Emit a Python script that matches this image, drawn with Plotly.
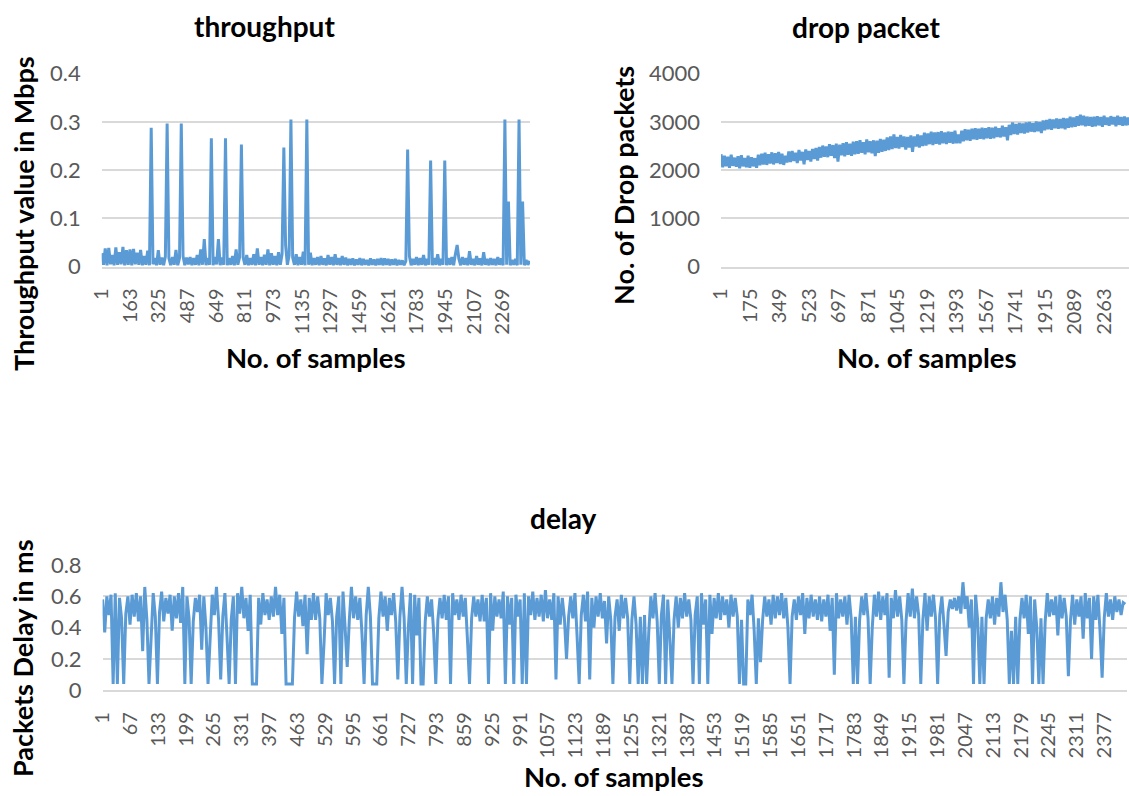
import plotly.graph_objects as go

W, H = 1129, 796

# ---------------- data ----------------
# throughput (Mbps), every 10th sample starting at sample 1
tp_step = 10
tp_base = [
    .028, .004, .038, .003, .039, .005, .024, .003, .040, .004, .030, .005, .041, .003, .034, .004, .036, .003, .037, .005,
    .029, .004, .035, .003, .022, .004, .033, .003, .020, .005, .018, .003, .034, .004, .019, .003, .021, .004, .018, .003,
    .020, .004, .035, .003, .018, .004, .022, .003, .019, .005, .020, .003, .018, .004, .024, .003, .036, .004, .022, .003,
    .018, .004, .028, .003, .020, .005, .030, .003, .019, .004, .019, .003, .018, .004, .022, .003, .036, .004, .020, .003,
    .019, .004, .024, .003, .018, .004, .026, .003, .038, .004, .020, .003, .025, .004, .036, .003, .028, .004, .022, .003,
    .030, .004, .026, .003, .040, .004, .024, .003, .019, .004, .026, .003, .020, .004, .031, .003, .020, .004, .029, .003,
    .018, .004, .020, .003, .022, .004, .017, .003, .024, .004, .020, .003, .026, .004, .018, .003, .022, .004, .019, .003,
    .016, .004, .017, .003, .015, .004, .018, .003, .016, .004, .014, .003, .017, .004, .015, .003, .016, .004, .018, .003,
    .017, .004, .016, .003, .015, .004, .016, .003, .014, .004, .013, .003, .012, .004, .022, .003, .016, .004, .020, .003,
    .018, .004, .024, .003, .016, .004, .022, .003, .018, .004, .026, .003, .016, .004, .024, .003, .018, .004, .020, .003,
    .026, .004, .016, .003, .020, .004, .018, .003, .032, .004, .016, .003, .022, .004, .017, .003, .030, .004, .016, .003,
    .018, .004, .016, .003, .020, .004, .017, .003, .018, .004, .016, .003, .014, .004, .016, .003, .018, .004, .015, .003,
    .014, .004, .012,
]
# (sample number, value) peaks
tp_events = [
    (282, .288), (367, .297), (450, .297), (584, .057), (618, .266), (665, .057),
    (699, .266), (788, .253), (1027, .247), (1046, .044), (1075, .305), (1156, .305),
    (1729, .243), (1857, .220), (1936, .220), (2012, .045), (2283, .305), (2297, .135),
    (2363, .305), (2378, .135),
]
tp_ticks = [1, 163, 325, 487, 649, 811, 973, 1135, 1297, 1459, 1621, 1783, 1945, 2107, 2269]

# drop packets, every 10th sample
drop_step = 10
drop_base = [
    2330, 2060, 2300, 2080, 2280, 2050, 2320, 2090, 2260, 2070, 2290, 2040, 2310, 2080, 2250, 2060, 2300, 2050, 2270, 2080,
    2250, 2050, 2320, 2100, 2340, 2120, 2360, 2110, 2330, 2140, 2370, 2120, 2350, 2150, 2380, 2130, 2340, 2110, 2300, 2160,
    2390, 2170, 2400, 2190, 2360, 2150, 2420, 2200, 2380, 2120, 2430, 2210, 2400, 2180, 2440, 2230, 2460, 2200, 2480, 2260,
    2510, 2280, 2490, 2270, 2540, 2300, 2520, 2250, 2550, 2180, 2530, 2310, 2560, 2290, 2580, 2320, 2550, 2300, 2590, 2330,
    2600, 2340, 2620, 2360, 2580, 2330, 2640, 2370, 2600, 2350, 2620, 2290, 2610, 2360, 2650, 2380, 2630, 2400, 2680, 2420,
    2700, 2440, 2740, 2460, 2690, 2450, 2730, 2480, 2700, 2430, 2690, 2470, 2720, 2380, 2700, 2490, 2740, 2470, 2720, 2500,
    2780, 2510, 2760, 2540, 2800, 2520, 2780, 2550, 2790, 2530, 2810, 2560, 2780, 2540, 2800, 2570, 2790, 2550, 2820, 2560,
    2740, 2560, 2820, 2600, 2850, 2620, 2840, 2610, 2860, 2640, 2870, 2630, 2860, 2650, 2880, 2640, 2870, 2660, 2890, 2650,
    2880, 2660, 2900, 2690, 2870, 2680, 2920, 2700, 2890, 2620, 2940, 2730, 2990, 2750, 2960, 2740, 2980, 2770, 2970, 2760,
    2990, 2780, 3000, 2800, 2970, 2790, 3010, 2810, 3000, 2770, 3030, 2830, 3040, 2850, 3060, 2840, 3050, 2870, 3070, 2860,
    3060, 2870, 3080, 2850, 3070, 2880, 3110, 2890, 3090, 2900, 3120, 2920, 3150, 2930, 3130, 2910, 3110, 2920, 3100, 2900,
    3110, 2910, 3120, 2930, 3100, 2900, 3130, 2940, 3090, 2920, 3120, 2950, 3100, 2910, 3130, 2940, 3100, 2920, 3110, 2930,
    3090, 2940, 3080,
]
drop_ticks = [1, 175, 349, 523, 697, 871, 1045, 1219, 1393, 1567, 1741, 1915, 2089, 2263]

# packet delay (ms), every 5th sample
delay_step = 5
delay_base = [
    .58, .37, .60, .48, .61, .45, .62, .50, .59, .46, .63, .49, .60, .42, .61, .47, .62, .44, .60, .48,
    .66, .45, .60, .35, .62, .47, .61, .50, .63, .44, .59, .49, .61, .38, .60, .46, .62, .43, .66, .48,
    .60, .46, .63, .44, .59, .50, .61, .45, .60, .40, .58, .33, .61, .48, .66, .45, .60, .47, .62, .34,
    .58, .45, .60, .44, .62, .49, .66, .46, .59, .38, .61, .47, .60, .45, .59, .42, .62, .48, .58, .45,
    .60, .47, .66, .48, .61, .36, .59, .49, .62, .44, .60, .46, .63, .47, .58, .41, .61, .48, .59, .45,
    .62, .45, .60, .46, .58, .30, .62, .48, .59, .44, .61, .47, .60, .48, .63, .40, .60, .45, .66, .46,
    .60, .45, .59, .36, .62, .48, .66, .47, .61, .42, .58, .46, .63, .47, .60, .38, .59, .48, .62, .44,
    .60, .47, .66, .46, .59, .40, .62, .48, .61, .35, .59, .46, .63, .44, .60, .47, .58, .37, .62, .45,
    .59, .46, .61, .45, .60, .40, .62, .48, .58, .45, .61, .47, .59, .33, .62, .46, .60, .47, .58, .44,
    .61, .44, .59, .46, .62, .38, .60, .47, .58, .46, .63, .45, .60, .42, .59, .48, .61, .47, .58, .35,
    .62, .46, .60, .48, .63, .45, .59, .47, .61, .44, .64, .46, .58, .45, .62, .48, .60, .42, .59, .46,
    .61, .47, .60, .46, .62, .35, .58, .48, .61, .44, .63, .45, .59, .40, .60, .47, .62, .46, .57, .30,
    .60, .45, .62, .47, .58, .38, .61, .46, .59, .46, .63, .45, .60, .42, .58, .47, .61, .48, .59, .37,
    .60, .46, .62, .44, .59, .48, .61, .47, .58, .33, .63, .45, .60, .40, .59, .46, .62, .47, .58, .45,
    .61, .48, .60, .46, .62, .42, .58, .47, .61, .36, .59, .46, .62, .45, .60, .48, .58, .40, .61, .47,
    .59, .47, .62, .45, .60, .44, .58, .48, .61, .38, .59, .46, .62, .45, .60, .47, .58, .42, .61, .46,
    .60, .48, .62, .46, .59, .40, .61, .47, .58, .45, .60, .48, .62, .36, .59, .46, .61, .47, .58, .45,
    .60, .44, .58, .47, .61, .38, .59, .48, .62, .46, .58, .47, .60, .42, .61, .46, .59, .47, .62, .45,
    .60, .48, .62, .46, .59, .40, .61, .47, .63, .45, .60, .48, .62, .37, .59, .46, .64, .47, .60, .45,
    .61, .44, .62, .47, .65, .46, .60, .48, .59, .45, .62, .38, .60, .47, .61, .46, .58, .48, .60, .42,
    .60, .50, .58, .52, .59, .51, .60, .49, .69, .52, .60, .40, .58, .48, .61, .44, .59, .47, .60, .46,
    .58, .46, .60, .42, .59, .47, .69, .50, .61, .45, .58, .38, .60, .47, .62, .45, .59, .46, .61, .36,
    .60, .47, .58, .40, .61, .46, .59, .44, .62, .47, .58, .48, .60, .35, .61, .46, .59, .47, .60, .45,
    .61, .42, .58, .47, .60, .33, .62, .46, .59, .48, .60, .45, .61, .38, .59, .46, .62, .47, .58, .45,
    .60, .50, .58, .48, .56, .55,
]
# (sample number, value) dips
delay_events = [
    (26, .04), (34, .04), (50, .04), (97, .25), (113, .04), (129, .04), (196, .04), (210, .04),
    (235, .26), (252, .04), (283, .07), (303, .04), (317, .04), (355, .04), (361, .04), (367, .04),
    (436, .04), (441, .04), (447, .04), (453, .04), (485, .23), (521, .04), (550, .04), (568, .04),
    (580, .15), (619, .04), (639, .04), (645, .04), (651, .04), (702, .07), (720, .04), (738, .04),
    (754, .04), (762, .04), (793, .04), (825, .04), (872, .04), (916, .04), (955, .04), (975, .04),
    (995, .04), (1008, .04), (1078, .07), (1100, .20), (1129, .04), (1158, .07), (1210, .04),
    (1250, .04), (1271, .04), (1282, .04), (1291, .04), (1319, .04), (1336, .04), (1350, .04),
    (1400, .04), (1416, .04), (1434, .04), (1512, .04), (1519, .04), (1524, .04), (1550, .04),
    (1560, .18), (1631, .04), (1734, .10), (1780, .04), (1789, .04), (1821, .04), (1868, .08),
    (1901, .04), (1943, .04), (1980, .04), (2000, .22), (2067, .04), (2079, .04), (2089, .04),
    (2149, .04), (2161, .04), (2170, .04), (2207, .04), (2219, .04), (2230, .04), (2291, .09),
    (2345, .20), (2373, .08),
]
delay_ticks = list(range(1, 2378, 66))


def build(base, step, events=()):
    xs = [1 + step * k for k in range(len(base))]
    ys = list(base)
    for i, v in events:
        k = round((i - 1) / step)
        if 0 <= k < len(ys):
            ys[k] = v
    return xs, ys


tp_x, tp_y = build(tp_base, tp_step, tp_events)
dr_x, dr_y = build(drop_base, drop_step)
de_x, de_y = build(delay_base, delay_step, delay_events)

# ---------------- figure ----------------
BLUE = "#5b9bd5"
GRID = "#d9d9d9"
TICK = "#595959"
FONT = "Lato"

fig = go.Figure()
line = dict(color=BLUE, width=3)
fig.add_trace(go.Scatter(x=tp_x, y=tp_y, mode="lines", line=line, xaxis="x", yaxis="y", hoverinfo="skip"))
fig.add_trace(go.Scatter(x=dr_x, y=dr_y, mode="lines", line=line, xaxis="x2", yaxis="y2", hoverinfo="skip"))
fig.add_trace(go.Scatter(x=de_x, y=de_y, mode="lines", line=line, xaxis="x3", yaxis="y3", hoverinfo="skip"))


def px_x(p):
    return p / W


def px_y(p):
    return 1 - p / H


xcommon = dict(showgrid=False, zeroline=False, showline=True, linecolor=GRID, linewidth=1.5,
               ticks="", tickangle=-90, tickfont=dict(family=FONT, size=20, color=TICK),
               ticklabelstandoff=12, tickmode="array", automargin=False)
ycommon = dict(showgrid=True, gridcolor=GRID, gridwidth=1.5, zeroline=False, showline=False,
               ticks="", tickfont=dict(family=FONT, size=22, color=TICK), ticklabelstandoff=20,
               tickmode="array", automargin=False)

fig.update_layout(
    width=W, height=H, autosize=False,
    margin=dict(l=0, r=0, t=0, b=0, pad=0, autoexpand=False),
    paper_bgcolor="white", plot_bgcolor="white",
    showlegend=False,
    xaxis=dict(xcommon, domain=[px_x(101.7), px_x(530)], range=[1, 2423], anchor="y",
               tickvals=tp_ticks, ticktext=[str(t) for t in tp_ticks]),
    yaxis=dict(ycommon, domain=[px_y(266.7), px_y(73.7)], range=[0, 0.4], anchor="x",
               tickvals=[0, 0.1, 0.2, 0.3, 0.4], ticktext=["0", "0.1", "0.2", "0.3", "0.4"]),
    xaxis2=dict(xcommon, domain=[px_x(721), 1.0], range=[1, 2408], anchor="y2",
                tickvals=drop_ticks, ticktext=[str(t) for t in drop_ticks]),
    yaxis2=dict(ycommon, domain=[px_y(266.7), px_y(73.7)], range=[0, 4000], anchor="x2",
                tickvals=[0, 1000, 2000, 3000, 4000], ticktext=["0", "1000", "2000", "3000", "4000"]),
    xaxis3=dict(xcommon, domain=[px_x(102.6), px_x(1127)], range=[1, 2430], anchor="y3",
                tickvals=delay_ticks, ticktext=[str(t) for t in delay_ticks]),
    yaxis3=dict(ycommon, domain=[px_y(690.3), px_y(565)], range=[0, 0.8], anchor="x3",
                tickvals=[0, 0.2, 0.4, 0.6, 0.8], ticktext=["0", "0.2", "0.4", "0.6", "0.8"]),
)

TITLE = dict(family=FONT, size=28, color="black")
AX = dict(family=FONT, size=27.5, color="black")
YAX = dict(family=FONT, size=27, color="black")


def ann(text, x, y, font, angle=0):
    fig.add_annotation(text="<b>%s</b>" % text, x=px_x(x), y=px_y(y), xref="paper", yref="paper",
                       showarrow=False, xanchor="center", yanchor="middle", textangle=angle, font=font,
                       borderpad=0)


ann("throughput", 264, 26, TITLE)
ann("drop packet", 866, 27, TITLE)
ann("delay", 563, 518, TITLE)
ann("No. of samples", 316, 357, AX)
ann("No. of samples", 927, 357, AX)
ann("No. of samples", 614, 776, AX)
ann("Throughput value in Mbps", 23, 214, YAX, -90)
ann("No. of Drop packets", 623, 186, YAX, -90)
ann("Packets Delay in ms", 22, 658, YAX, -90)

post = ("document.documentElement.style.margin='0';document.documentElement.style.overflow='hidden';"
        "document.body.style.margin='0';document.body.style.padding='0';document.body.style.overflow='hidden';")
fig.write_html("out.html", post_script=post, config={"responsive": False, "displayModeBar": False})
